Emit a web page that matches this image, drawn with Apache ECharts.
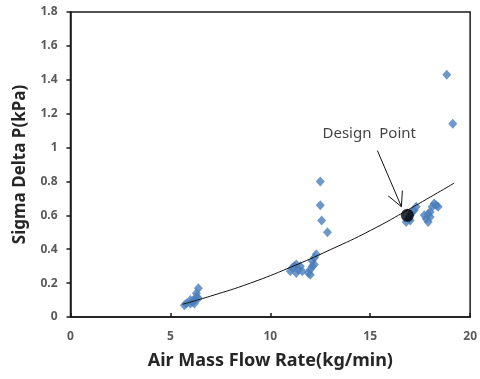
<!DOCTYPE html>
<html><head><meta charset="utf-8">
<script src="https://cdn.jsdelivr.net/npm/echarts@6/dist/echarts.min.js"></script>
<style>html,body{margin:0;padding:0;background:#fff}#c{width:480px;height:379px}</style>
</head><body><div id="c"></div>
<script>
// measured data (x: air mass flow rate kg/min, y: sigma delta P kPa)
const measX = [5.7,5.8,6.0,6.1,6.2,6.3,6.3,6.4,6.2,6.4,6.0,
  11.0,11.1,11.2,11.3,11.4,11.5,11.3,11.6,11.9,12.0,12.1,12.1,12.2,12.3,12.0,12.2,
  12.5,12.5,12.57,12.86,
  16.8,16.9,17.0,17.1,17.2,17.3,17.0,
  17.7,17.8,17.9,17.9,18.0,18.1,18.2,18.3,18.4,18.0,
  18.83,19.13];
const measY = [0.07,0.08,0.08,0.09,0.10,0.12,0.14,0.17,0.08,0.11,0.10,
  0.27,0.29,0.30,0.31,0.28,0.30,0.26,0.27,0.26,0.28,0.30,0.33,0.35,0.37,0.25,0.31,
  0.80,0.66,0.57,0.50,
  0.56,0.58,0.60,0.62,0.63,0.65,0.57,
  0.60,0.58,0.56,0.61,0.62,0.65,0.67,0.66,0.65,0.59,
  1.43,1.14];
// trend line
const trendX = [5.6,7,9,11,13,15,17,19.2];
const trendY = [0.075,0.123,0.20,0.293,0.397,0.51,0.64,0.79];
// design point
const designX = [16.86];
const designY = [0.60];
// annotation
const annoText = 'Design  Point';
const annoTextPos = [14.95, 1.08];
const arrowFrom = [15.36, 0.982];
const arrowTo = [16.56, 0.651];
const arrowHeadL = [15.90, 0.715];
const arrowHeadR = [16.61, 0.746];
const xTicks = [0,5,10,15,20];
const yTicks = [0,0.2,0.4,0.6,0.8,1,1.2,1.4,1.6,1.8];

const zip = (a,b)=>a.map((v,i)=>[v,b[i]]);
const font = '"Noto Sans", "Open Sans", sans-serif';
const chart = echarts.init(document.getElementById('c'), null, {renderer:'canvas'});
chart.setOption({
  animation:false,
  grid:{left:70.5,right:7.5,top:12,bottom:62,show:true,borderColor:'#1a1a1a',borderWidth:1.5,backgroundColor:'transparent'},
  xAxis:{type:'value',min:xTicks[0],max:xTicks[xTicks.length-1],interval:5,
    name:'Air Mass Flow Rate(kg/min)',nameLocation:'middle',nameGap:35,
    nameTextStyle:{fontFamily:font,fontSize:18,fontWeight:'bold',color:'#262626'},
    axisLine:{lineStyle:{color:'#1a1a1a',width:1.5}},
    axisTick:{inside:true,length:4,lineStyle:{color:'#1a1a1a',width:1.5}},
    axisLabel:{fontFamily:font,fontSize:12,fontWeight:'bold',color:'#595959',margin:14},
    splitLine:{show:false}},
  yAxis:{type:'value',min:yTicks[0],max:yTicks[yTicks.length-1],interval:0.2,
    name:'Sigma Delta P(kPa)',nameLocation:'middle',nameGap:42,
    nameTextStyle:{fontFamily:font,fontSize:17,fontWeight:'bold',color:'#262626'},
    axisLine:{lineStyle:{color:'#1a1a1a',width:1.5}},
    axisTick:{inside:false,length:4,lineStyle:{color:'#1a1a1a',width:1.5}},
    axisLabel:{fontFamily:font,fontSize:12,fontWeight:'bold',color:'#595959',margin:13,
      formatter:v=>String(+v.toFixed(1))},
    splitLine:{show:false}},
  series:[
    {type:'scatter',data:zip(measX,measY),symbol:'diamond',symbolSize:[9,10],
     itemStyle:{color:'#4a7ebb'},z:2},
    {type:'line',data:zip(trendX,trendY),smooth:true,showSymbol:false,
     lineStyle:{color:'#111',width:1},z:3},
    {type:'scatter',data:zip(designX,designY),symbol:'circle',symbolSize:13,
     itemStyle:{color:'#000'},z:4},
    {type:'scatter',data:[annoTextPos],symbolSize:0,z:5,
     label:{show:true,position:'inside',formatter:annoText,fontFamily:font,fontSize:15,color:'#111'},
     markLine:{silent:true,symbol:['none','none'],
       lineStyle:{color:'#111',width:1,type:'solid'},label:{show:false},
       data:[[{coord:arrowFrom},{coord:arrowTo}],
             [{coord:arrowHeadL},{coord:arrowTo}],
             [{coord:arrowHeadR},{coord:arrowTo}]]}}
  ]
});
</script></body></html>
